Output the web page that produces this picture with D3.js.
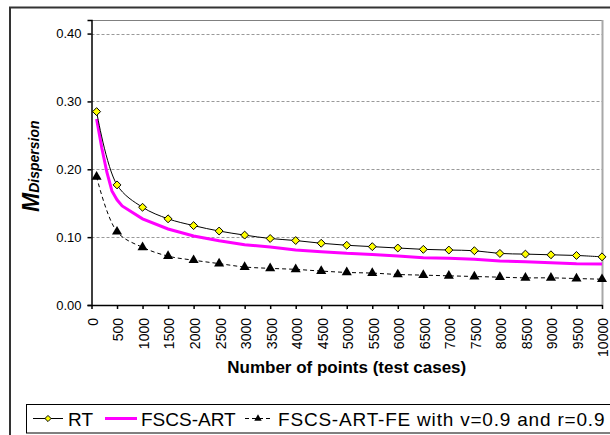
<!DOCTYPE html>
<html><head><meta charset="utf-8">
<script src="https://cdn.jsdelivr.net/npm/d3@7"></script>
<style>body{margin:0;background:#fff;}svg{display:block;font-family:"Liberation Sans",Arial,sans-serif;}</style>
</head><body><svg id="c" width="610" height="435"></svg>
<script>
const xTicks = [0,500,1000,1500,2000,2500,3000,3500,4000,4500,5000,5500,6000,6500,7000,7500,8000,8500,9000,9500,10000];
const yTicks = [0.0,0.1,0.2,0.3,0.4];
const xPts = [100,500,1000,1500,2000,2500,3000,3500,4000,4500,5000,5500,6000,6500,7000,7500,8000,8500,9000,9500,10000];
const rtVals = [0.285,0.177,0.144,0.127,0.117,0.109,0.103,0.098,0.095,0.091,0.088,0.086,0.084,0.082,0.081,0.080,0.076,0.075,0.074,0.073,0.071];
const feVals = [0.189,0.108,0.085,0.072,0.066,0.061,0.056,0.054,0.0525,0.050,0.048,0.047,0.045,0.044,0.043,0.042,0.041,0.040,0.040,0.039,0.038];
const artX = [100,200,300,400,500,600,1000,1500,2000,2500,3000,3500,4000,4500,5000,5500,6000,6500,7000,7500,8000,8500,9000,9500,10000];
const artVals = [0.274,0.232,0.196,0.168,0.155,0.146,0.127,0.112,0.1016,0.0947,0.0888,0.0854,0.081,0.0785,0.0761,0.0746,0.0722,0.0697,0.0688,0.0673,0.0648,0.0638,0.0623,0.0608,0.0605];
const seriesNames = ["RT","FSCS-ART","FSCS-ART-FE with v=0.9 and r=0.9"];

const svg = d3.select("#c");
const L=91.5, R=602, T=20, B=305;
const x = d3.scaleLinear().domain([0,10000]).range([L,R]);
const y = d3.scaleLinear().domain([0,0.42]).range([B,T]);

// outer frame
svg.append("rect").attr("x",10).attr("y",7.5).attr("width",700).attr("height",600)
  .attr("fill","#fff").attr("stroke","#333").attr("stroke-width",2);

// grid
svg.append("g").selectAll("line").data(yTicks.filter(d=>d>0)).join("line")
  .attr("x1",L).attr("x2",R).attr("y1",d=>Math.round(y(d))+0.5).attr("y2",d=>Math.round(y(d))+0.5)
  .attr("stroke","#999").attr("stroke-dasharray","3,2");
// plot frame top/right
svg.append("line").attr("x1",L).attr("x2",R).attr("y1",T+0.5).attr("y2",T+0.5).attr("stroke","#808080");
svg.append("line").attr("x1",R+0.5).attr("x2",R+0.5).attr("y1",T).attr("y2",B).attr("stroke","#a8a8a8").attr("stroke-width",2);

// axes
const yAxis = d3.axisLeft(y).tickValues(yTicks).tickFormat(d3.format(".2f")).tickSize(4).tickPadding(6);
const gy = svg.append("g").attr("transform",`translate(${L},0)`).call(yAxis);
gy.select(".domain").attr("stroke","#000").attr("stroke-width",1.5);
gy.selectAll("text").attr("font-size",13).attr("font-family","Liberation Sans, Arial").attr("fill","#000");
gy.selectAll(".tick line").attr("stroke","#000").attr("stroke-width",1.5);

const xAxis = d3.axisBottom(x).tickValues(xTicks).tickFormat(d3.format("d")).tickSize(4).tickSizeOuter(0);
const gx = svg.append("g").attr("transform",`translate(0,${B})`).call(xAxis);
gx.select(".domain").attr("stroke","#000").attr("stroke-width",1.5);
gx.selectAll(".tick line").attr("stroke","#000").attr("stroke-width",1.5);
gx.selectAll("text").attr("font-size",14).attr("font-family","Liberation Sans, Arial").attr("fill","#000")
  .attr("text-anchor","end").attr("transform","translate(1,13) rotate(-90)").attr("x",0).attr("y",0).attr("dy","0.35em");

// lines
const lineRT = d3.line().x((d,i)=>x(xPts[i])).y(d=>y(d)).curve(d3.curveCatmullRom.alpha(0.5));
const lineART = d3.line().x((d,i)=>x(artX[i])).y(d=>y(d));
svg.append("path").attr("d",lineART(artVals)).attr("fill","none").attr("stroke","#ff00ff").attr("stroke-width",3);
svg.append("path").attr("d",lineRT(feVals)).attr("fill","none").attr("stroke","#000").attr("stroke-width",1).attr("stroke-dasharray","4,3");
svg.append("path").attr("d",lineRT(rtVals)).attr("fill","none").attr("stroke","#000").attr("stroke-width",1);

const diamond = d3.symbol().type(d3.symbolDiamond2).size(40);
const tri = d3.symbol().type(d3.symbolTriangle).size(44);
svg.append("g").selectAll("path").data(feVals).join("path")
  .attr("d",tri).attr("transform",(d,i)=>`translate(${x(xPts[i])},${y(d)})`).attr("fill","#000");
svg.append("g").selectAll("path").data(rtVals).join("path")
  .attr("d",diamond).attr("transform",(d,i)=>`translate(${x(xPts[i])},${y(d)})`).attr("fill","#ffff00").attr("stroke","#000").attr("stroke-width",1);

// axis titles
svg.append("text").attr("x",(L+R)/2).attr("y",373).attr("text-anchor","middle")
  .attr("font-size",17).attr("font-weight","bold").text("Number of points (test cases)");
const yt = svg.append("text").attr("transform","translate(39,212) rotate(-90)")
  .attr("font-weight","bold").attr("font-style","italic");
yt.append("tspan").attr("font-size",23).text("M");
yt.append("tspan").attr("font-size",14).attr("dy",0).text("Dispersion");

// legend
const lg = svg.append("g");
lg.append("rect").attr("x",26.5).attr("y",404.5).attr("width",620).attr("height",28.5).attr("fill","#fff").attr("stroke","#000");
const ly = 418.5;
lg.append("line").attr("x1",33).attr("x2",63).attr("y1",ly).attr("y2",ly).attr("stroke","#000");
lg.append("path").attr("d",d3.symbol().type(d3.symbolDiamond2).size(24)).attr("transform",`translate(48,${ly})`).attr("fill","#ffff00").attr("stroke","#000");
lg.append("text").attr("x",68).attr("y",426).attr("font-size",19).text(seriesNames[0]);
lg.append("line").attr("x1",105).attr("x2",137).attr("y1",ly).attr("y2",ly).attr("stroke","#ff00ff").attr("stroke-width",3);
lg.append("text").attr("x",141).attr("y",426).attr("font-size",19).text(seriesNames[1]);
lg.append("line").attr("x1",245).attr("x2",272).attr("y1",ly).attr("y2",ly).attr("stroke","#000").attr("stroke-dasharray","4,3");
lg.append("path").attr("d",d3.symbol().type(d3.symbolTriangle).size(24)).attr("transform",`translate(258,${ly})`).attr("fill","#000");
lg.append("text").attr("x",278).attr("y",426).attr("font-size",19).attr("letter-spacing",0.8).text(seriesNames[2]);
</script></body></html>
